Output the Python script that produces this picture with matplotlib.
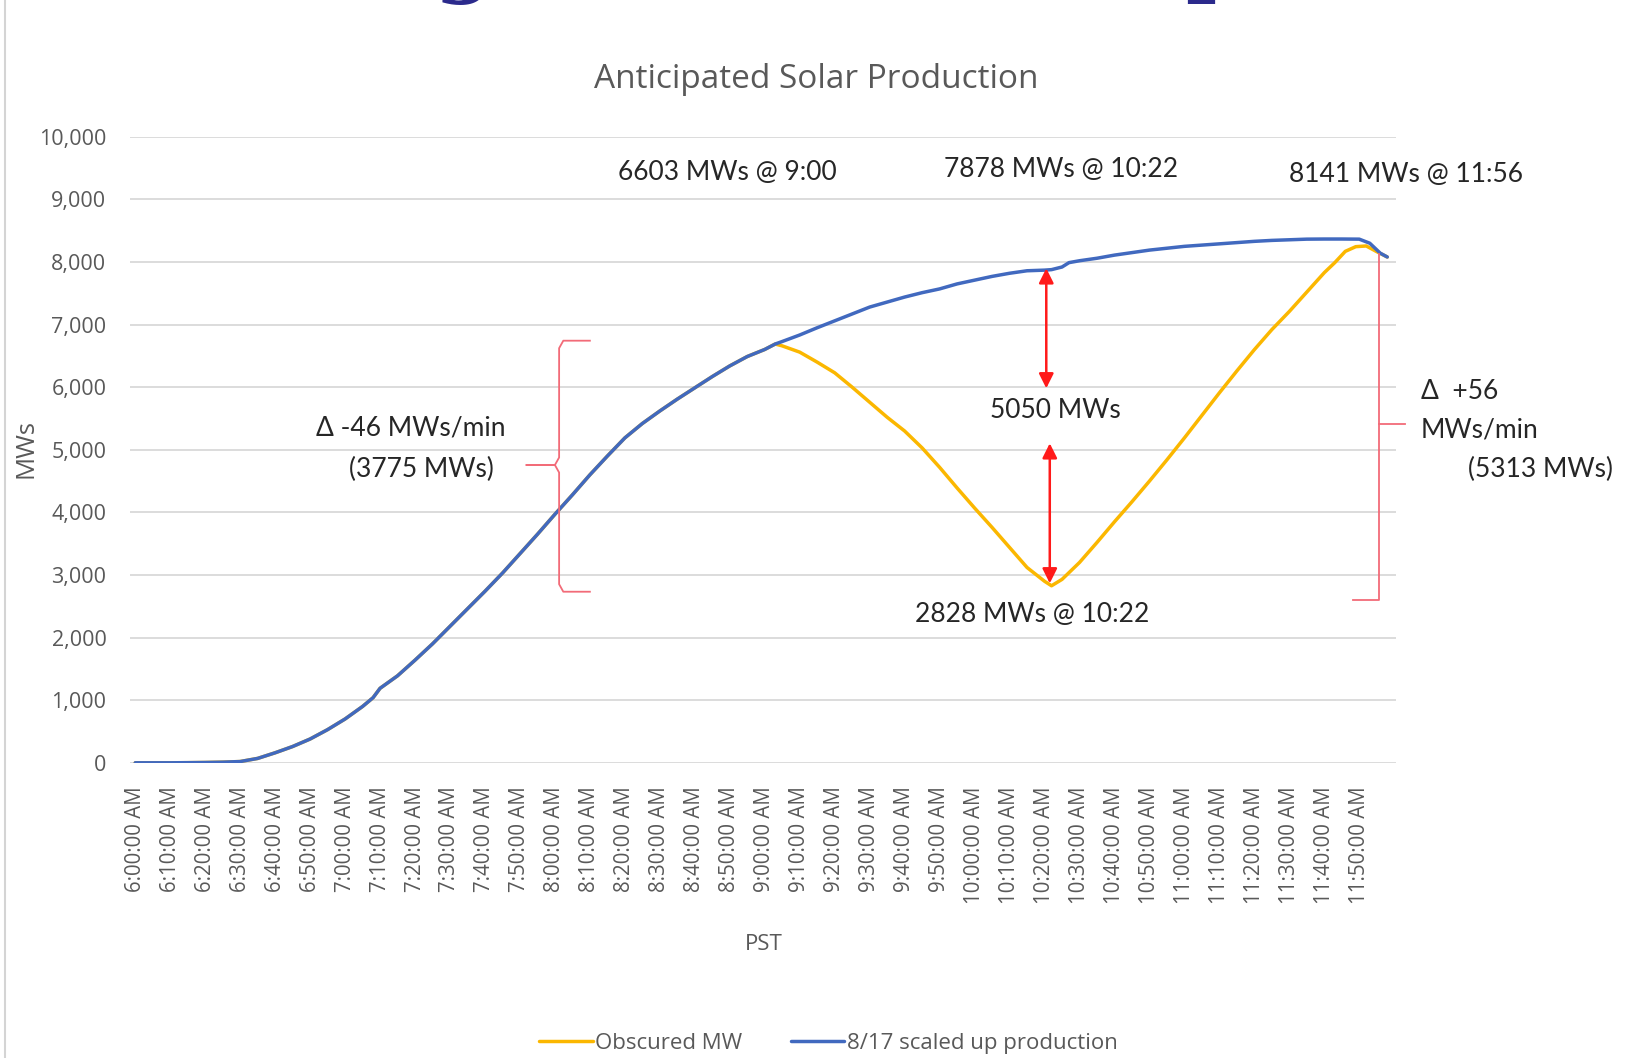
import matplotlib
matplotlib.use("Agg")
import matplotlib.pyplot as plt
from matplotlib.lines import Line2D
import numpy as np

# ---------------- data ----------------
# minutes after 6:00 AM PST
blue_minutes = [0, 5, 10, 15, 20, 25, 30, 35, 40, 45, 50, 55, 60, 65, 68, 70, 75, 80, 85, 90,
                95, 100, 105, 110, 115, 120, 125, 130, 135, 140, 145, 150, 155, 160, 165,
                170, 175, 180, 183, 185, 190, 195, 200, 205, 210, 215, 220, 225, 230, 235,
                240, 245, 250, 255, 260, 262, 265, 267, 270, 275, 280, 285, 290, 295, 300,
                305, 310, 315, 320, 325, 330, 335, 340, 345, 350, 353, 356, 358]
blue_values = [0, 0, 0, 2, 5, 10, 20, 70, 160, 260, 380, 530, 700, 900, 1040, 1190, 1390, 1640,
               1900, 2180, 2460, 2740, 3030, 3340, 3650, 3970, 4280, 4600, 4900, 5190, 5420,
               5620, 5810, 5990, 6170, 6340, 6490, 6603, 6690, 6730, 6834, 6950, 7060, 7170,
               7280, 7360, 7440, 7510, 7570, 7650, 7710, 7770, 7820, 7860, 7870, 7878, 7920,
               7990, 8020, 8060, 8110, 8150, 8190, 8220, 8250, 8270, 8290, 8310, 8330, 8345,
               8355, 8365, 8367, 8367, 8365, 8300, 8141, 8080]

# obscured production: identical to the 8/17 curve until the eclipse starts (~9:03)
eclipse_start = 183
obscured_minutes_after = [185, 190, 195, 200, 205, 210, 215, 220, 225, 230, 235, 240, 245,
                          250, 255, 260, 262, 265, 270, 275, 280, 285, 290, 295, 300, 305,
                          310, 315, 320, 325, 330, 335, 340, 343, 346, 349, 352, 355, 358]
obscured_values_after = [6660, 6560, 6400, 6230, 6000, 5760, 5520, 5300, 5030, 4720, 4390,
                         4070, 3760, 3440, 3120, 2900, 2828, 2930, 3200, 3520, 3850, 4170,
                         4500, 4840, 5190, 5550, 5910, 6260, 6600, 6920, 7210, 7520, 7830,
                         7990, 8170, 8245, 8256, 8165, 8080]

tick_minutes = list(range(0, 351, 10))
tick_labels = [f"{6 + m // 60}:{m % 60:02d}:00 AM" for m in tick_minutes]
y_ticks = list(range(0, 10001, 1000))

series_names = ["Obscured MW", "8/17 scaled up production"]

# build obscured series
obs_minutes = [m for m in blue_minutes if m <= eclipse_start] + obscured_minutes_after
obs_values = [v for m, v in zip(blue_minutes, blue_values) if m <= eclipse_start] + obscured_values_after

# ---------------- figure ----------------
W, H = 1630, 1058
fig = plt.figure(figsize=(W / 100, H / 100), dpi=100)
fig.patch.set_facecolor("white")

def fx(px):
    return px / W

def fy(py):
    return 1 - py / H

ax_left, ax_right, ax_top, ax_bottom = 130, 1396, 136.8, 762.8
ax = fig.add_axes([fx(ax_left), fy(ax_bottom), fx(ax_right - ax_left), (ax_bottom - ax_top) / H])

BLUE = "#4169bf"
ORANGE = "#fbb700"
GRID = "#d9d9d9"
TXT = "#595959"

l1, = ax.plot(obs_minutes, obs_values, color=ORANGE, lw=2.5, solid_capstyle="round", zorder=3)
l2, = ax.plot(blue_minutes, blue_values, color=BLUE, lw=2.5, solid_capstyle="round", zorder=4)

ax.set_xlim(-1.5, 360.5)
ax.set_ylim(0, 10000)
ax.set_yticks(y_ticks)
ax.set_yticklabels([f"{v:,}" for v in y_ticks], fontfamily="Open Sans", fontsize=15.5, color=TXT)
ax.set_xticks(tick_minutes)
ax.set_xticklabels(tick_labels, rotation=90, fontfamily="Open Sans", fontsize=14.8, color=TXT)
ax.tick_params(axis="both", length=0)
ax.tick_params(axis="y", pad=17)
ax.tick_params(axis="x", pad=17)
ax.grid(axis="y", color=GRID, lw=1.3)
ax.set_axisbelow(True)
for s in ax.spines.values():
    s.set_visible(False)

# ---------------- annotations ----------------
RED = "#ff1a1a"
PINK = "#f26b78"

# left curly bracket
bx, by_top, by_bot, by_mid = 121.2, 6743, 2733, 4757
ax.plot([130, bx + 1.2, bx, bx, bx - 1.2, 111.9], [by_top, by_top, by_top - 120, by_mid + 120, by_mid, by_mid],
        color=PINK, lw=1.3, zorder=5)
ax.plot([111.9, bx - 1.2, bx, bx, bx + 1.2, 130], [by_mid, by_mid, by_mid - 120, by_bot + 120, by_bot, by_bot],
        color=PINK, lw=1.3, zorder=5)

# right bracket
ax.plot([355.5, 355.5, 348.2], [8130, 2608, 2608], color=PINK, lw=1.3, zorder=5, clip_on=False)
ax.plot([355.5, 363.0], [5415, 5415], color=PINK, lw=1.3, zorder=5, clip_on=False)

# red double arrows
arrow_kw = dict(arrowstyle="<|-|>", color=RED, lw=1.8, mutation_scale=22, shrinkA=0, shrinkB=0)
ax.annotate("", xy=(260.5, 7899), xytext=(260.5, 5982), arrowprops=arrow_kw, zorder=6)
ax.annotate("", xy=(261.5, 5104), xytext=(261.5, 2867), arrowprops=arrow_kw, zorder=6)

AF = ["Lato", "DejaVu Sans"]
ANN = "#262626"
ann_size = 19
fig.text(fx(727.7), fy(172.6), "6603 MWs @ 9:00", ha="center", va="center", family=AF, fontsize=ann_size, color=ANN)
fig.text(fx(1061.3), fy(169.4), "7878 MWs @ 10:22", ha="center", va="center", family=AF, fontsize=ann_size, color=ANN)
fig.text(fx(1406.4), fy(174.6), "8141 MWs @ 11:56", ha="center", va="center", family=AF, fontsize=ann_size, color=ANN)
fig.text(fx(1055), fy(410.6), "5050 MWs", ha="center", va="center", family=AF, fontsize=ann_size, color=ANN)
fig.text(fx(1032.2), fy(614.3), "2828 MWs @ 10:22", ha="center", va="center", family=AF, fontsize=ann_size, color=ANN)
fig.text(fx(410.6), fy(428.3), "Δ -46 MWs/min", ha="center", va="center", family=AF, fontsize=ann_size, color=ANN)
fig.text(fx(421), fy(469.9), "(3775 MWs)", ha="center", va="center", family=AF, fontsize=ann_size, color=ANN)
fig.text(fx(1421), fy(391.9), "Δ  +56", ha="left", va="center", family=AF, fontsize=ann_size, color=ANN)
fig.text(fx(1421), fy(430.4), "MWs/min", ha="left", va="center", family=AF, fontsize=ann_size, color=ANN)
fig.text(fx(1467.8), fy(469.9), "(5313 MWs)", ha="left", va="center", family=AF, fontsize=ann_size, color=ANN)

# titles / labels
NARROW = ["Open Sans", "DejaVu Sans"]
fig.text(fx(816), fy(79), "Anticipated Solar Production", ha="center", va="center",
         family=NARROW, fontsize=24, color=TXT)
fig.text(fx(26), fy(449), "MWs", ha="center", va="center", rotation=90,
         family=["Open Sans", "DejaVu Sans"], fontsize=18.5, color=TXT)
fig.text(fx(764), fy(944), "PST", ha="center", va="center", family=NARROW, fontsize=16, color=TXT)

leg = fig.legend([l1, l2], series_names, loc="center", bbox_to_anchor=(fx(828.5), fy(1043.7)),
                 ncol=2, frameon=False, handlelength=2.4, handletextpad=0.1, columnspacing=2.2,
                 prop={"family": NARROW, "size": 16})
for t in leg.get_texts():
    t.set_color(TXT)

# slide title descenders cut at top edge
fig.text(fx(464), 1 + 13 / H, "g", ha="center", va="baseline", family="DejaVu Serif",
         fontweight="bold", fontsize=60, color="#2b2a8c")
fig.text(fx(1214), 1 + 13 / H, "p", ha="center", va="baseline", family="DejaVu Serif",
         fontweight="bold", fontsize=60, color="#2b2a8c")

# slide frame line on the left
fig.add_artist(Line2D([fx(5), fx(5)], [0, 1], color="#d4d4d4", lw=1.5))

fig.savefig("out.png", dpi=100, facecolor="white")
